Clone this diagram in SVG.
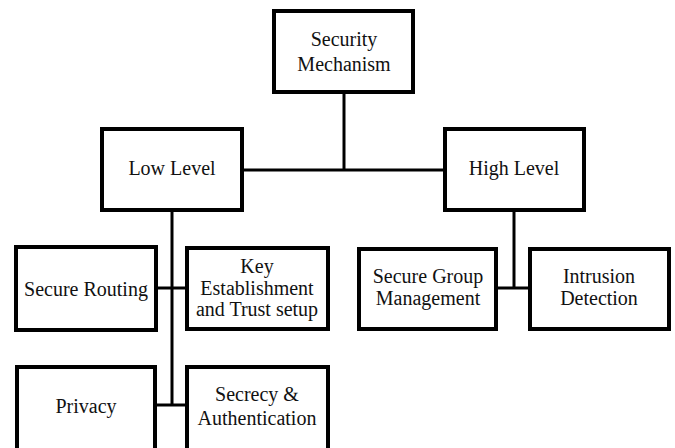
<svg xmlns="http://www.w3.org/2000/svg" width="675" height="448" viewBox="0 0 675 448">
<style>
.box{fill:#fff;stroke:#000;stroke-width:4}
.lbl{font-family:'Liberation Serif','Times New Roman',serif;font-size:20px;fill:#111;text-anchor:middle}
.con{stroke:#000;stroke-width:3;fill:none}
</style>
<rect width="675" height="448" fill="#fff"/>
<g id="connectors">
<line class="con" x1="344" y1="92" x2="344" y2="170"/>
<line class="con" x1="242" y1="170" x2="445" y2="170"/>
<line class="con" x1="172" y1="210" x2="172" y2="405"/>
<line class="con" x1="156" y1="288" x2="187" y2="288"/>
<line class="con" x1="155" y1="405" x2="187" y2="405"/>
<line class="con" x1="514" y1="210" x2="514" y2="288"/>
<line class="con" x1="496" y1="288" x2="530" y2="288"/>
</g>
<g id="security-mechanism">
<rect class="box" x="274" y="11" width="139" height="81"/>
<text class="lbl" x="344" y="46">Security</text>
<text class="lbl" x="344" y="71">Mechanism</text>
</g>
<g id="low-level">
<rect class="box" x="102" y="129" width="140" height="81"/>
<text class="lbl" x="172" y="175">Low Level</text>
</g>
<g id="high-level">
<rect class="box" x="445" y="129" width="139" height="81"/>
<text class="lbl" x="514" y="175">High Level</text>
</g>
<g id="secure-routing">
<rect class="box" x="16" y="247" width="140" height="83"/>
<text class="lbl" x="86" y="296">Secure Routing</text>
</g>
<g id="key-establishment">
<rect class="box" x="187" y="248" width="141" height="81"/>
<text class="lbl" x="257" y="273">Key</text>
<text class="lbl" x="257" y="295">Establishment</text>
<text class="lbl" x="257" y="316">and Trust setup</text>
</g>
<g id="secure-group-management">
<rect class="box" x="359" y="249" width="137" height="80"/>
<text class="lbl" x="428" y="283">Secure Group</text>
<text class="lbl" x="428" y="305">Management</text>
</g>
<g id="intrusion-detection">
<rect class="box" x="530" y="249" width="139" height="80"/>
<text class="lbl" x="599" y="283">Intrusion</text>
<text class="lbl" x="599" y="305">Detection</text>
</g>
<g id="privacy">
<rect class="box" x="17" y="367" width="138" height="92"/>
<text class="lbl" x="86" y="413">Privacy</text>
</g>
<g id="secrecy-authentication">
<rect class="box" x="187" y="367" width="141" height="92"/>
<text class="lbl" x="257" y="401">Secrecy &amp;</text>
<text class="lbl" x="257" y="425">Authentication</text>
</g>
</svg>
